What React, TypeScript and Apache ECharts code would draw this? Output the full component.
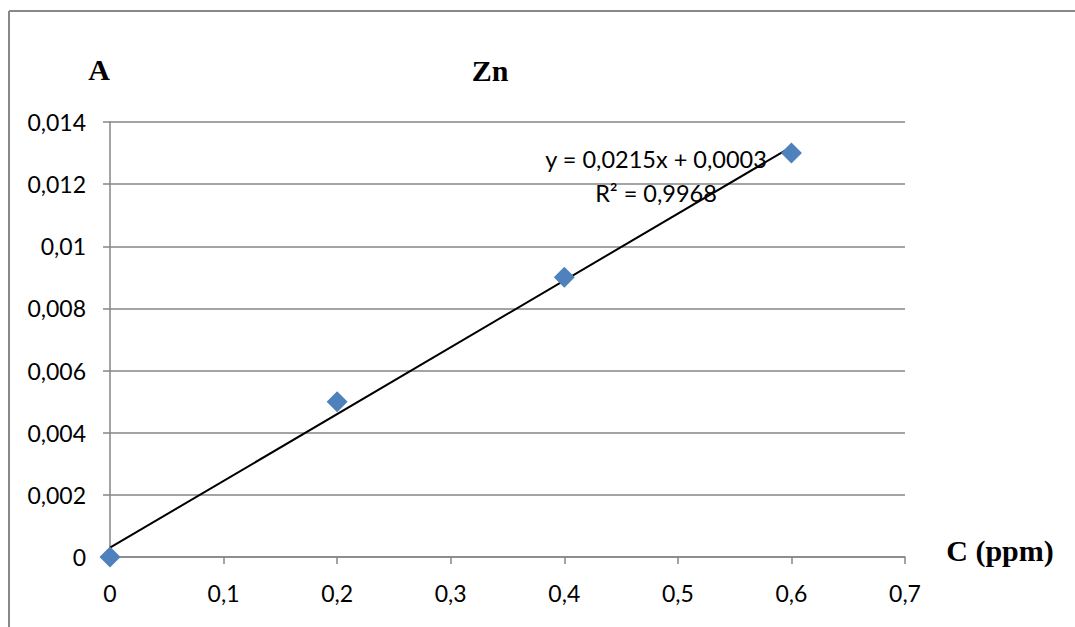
import React, { useEffect, useRef } from "react";
import * as echarts from "echarts";

const concentrations = [0, 0.2, 0.4, 0.6];
const absorbances = [0, 0.005, 0.009, 0.013];
const trendX = [0, 0.6];
const trendY = [0.0003, 0.0132];
const equationText = "y = 0,0215x + 0,0003";
const r2Text = "R² = 0,9968";

const fmt = (v: number, d: number) => {
  let s = v.toFixed(d);
  if (s.indexOf(".") >= 0) s = s.replace(/0+$/, "").replace(/\.$/, "");
  return s.replace(".", ",");
};

export default function App() {
  const ref = useRef<HTMLDivElement>(null);
  useEffect(() => {
    if (!ref.current) return;
    const chart = echarts.init(ref.current, undefined, { renderer: "svg" });
    const labelFont = { fontFamily: "Lato", fontSize: 23, color: "#000" };
    const serifBold = {
      fontFamily: "Liberation Serif",
      fontWeight: "bold" as const,
      fontSize: 30,
      fill: "#000",
    };
    chart.setOption({
      animation: false,
      backgroundColor: "#fff",
      grid: { left: 110, right: 170, top: 122, bottom: 70 },
      xAxis: {
        type: "value",
        min: 0,
        max: 0.7,
        interval: 0.1,
        axisLine: { show: true, lineStyle: { color: "#868686", width: 1.5 } },
        axisTick: { show: true, length: 7, lineStyle: { color: "#868686", width: 1.5 } },
        splitLine: { show: false },
        axisLabel: { ...labelFont, margin: 24, formatter: (v: number) => fmt(v, 1) },
      },
      yAxis: {
        type: "value",
        min: 0,
        max: 0.014,
        interval: 0.002,
        axisLine: { show: true, lineStyle: { color: "#868686", width: 1.5 } },
        axisTick: { show: true, length: 7, lineStyle: { color: "#868686", width: 1.5 } },
        splitLine: { show: true, lineStyle: { color: "#868686", width: 1.5 } },
        axisLabel: { ...labelFont, margin: 24, formatter: (v: number) => fmt(v, 3) },
      },
      series: [
        {
          type: "line",
          data: trendX.map((x, i) => [x, trendY[i]]),
          showSymbol: false,
          symbol: "none",
          lineStyle: { color: "#000", width: 2 },
          z: 2,
        },
        {
          type: "scatter",
          data: concentrations.map((x, i) => [x, absorbances[i]]),
          symbol: "diamond",
          symbolSize: 21,
          itemStyle: { color: "#4F81BD", opacity: 1 },
          z: 3,
        },
      ],
      graphic: [
        { type: "line", shape: { x1: 9, y1: 11, x2: 1075, y2: 11 }, style: { stroke: "#888", lineWidth: 2 } },
        { type: "line", shape: { x1: 9, y1: 11, x2: 9, y2: 627 }, style: { stroke: "#888", lineWidth: 2 } },
        { type: "text", x: 99, y: 69, style: { ...serifBold, text: "A", align: "center", verticalAlign: "middle" } },
        { type: "text", x: 490, y: 70, style: { ...serifBold, text: "Zn", align: "center", verticalAlign: "middle" } },
        { type: "text", x: 1000, y: 550, style: { ...serifBold, text: "C (ppm)", align: "center", verticalAlign: "middle" } },
        {
          type: "text",
          x: 656,
          y: 159,
          z: 10,
          style: { text: equationText, fontFamily: "Lato", fontSize: 23.5, fill: "#000", align: "center", verticalAlign: "middle" },
        },
        {
          type: "text",
          x: 656,
          y: 193,
          z: 10,
          style: { text: r2Text, fontFamily: "Lato", fontSize: 23.5, fill: "#000", align: "center", verticalAlign: "middle" },
        },
      ],
    });
    return () => chart.dispose();
  }, []);
  return (
    <div
      ref={ref}
      style={{ position: "fixed", left: 0, top: 0, width: 1075, height: 627 }}
    />
  );
}
